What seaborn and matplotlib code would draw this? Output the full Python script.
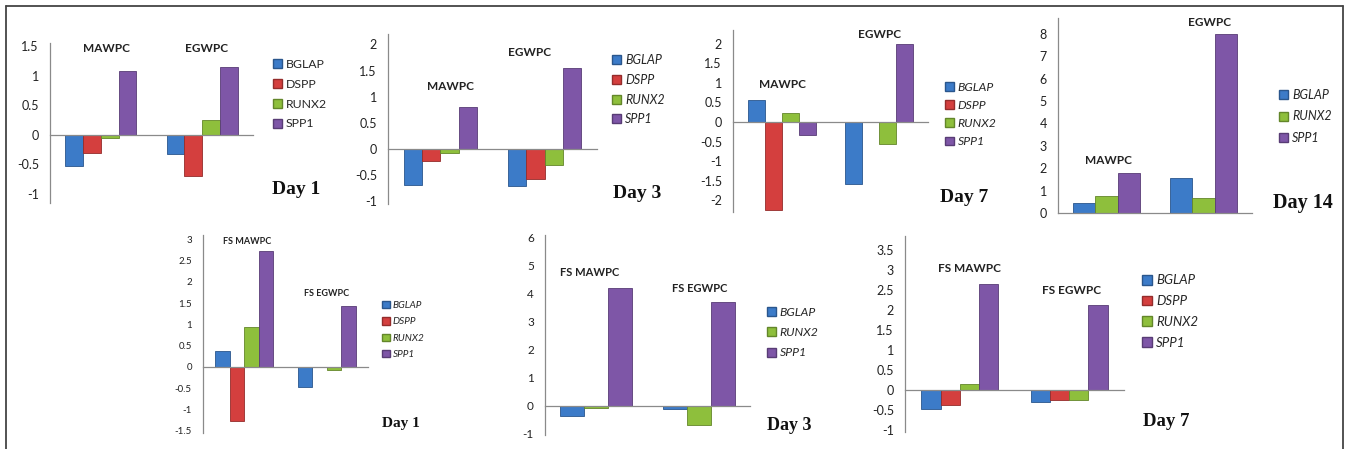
import numpy as np
import pandas as pd
import matplotlib
matplotlib.use("Agg")
import matplotlib.pyplot as plt
import matplotlib.colors as mcolors
from matplotlib.lines import Line2D
from matplotlib.patches import Patch
from matplotlib.ticker import FuncFormatter
import seaborn as sns

W, H = 1346, 449

genes4 = ["BGLAP", "DSPP", "RUNX2", "SPP1"]
genes3 = ["BGLAP", "RUNX2", "SPP1"]
groups = ["MAWPC", "EGWPC"]
groups_fs = ["FS MAWPC", "FS EGWPC"]

# values (gene order as in the legend)
day1_mawpc = [-0.52, -0.30, -0.05, 1.08]
day1_egwpc = [-0.32, -0.70, 0.25, 1.15]
day3_mawpc = [-0.68, -0.22, -0.07, 0.80]
day3_egwpc = [-0.70, -0.58, -0.30, 1.55]
day7_mawpc = [0.55, -2.25, 0.22, -0.32]
day7_egwpc = [-1.58, np.nan, -0.55, 2.00]
day14_mawpc = [0.45, 0.78, 1.80]
day14_egwpc = [1.55, 0.65, 8.00]
fs_day1_mawpc = [0.37, -1.27, 0.93, 2.72]
fs_day1_egwpc = [-0.48, np.nan, -0.08, 1.43]
fs_day3_mawpc = [-0.38, -0.08, 4.22]
fs_day3_egwpc = [-0.12, -0.70, 3.70]
fs_day7_mawpc = [-0.47, -0.38, 0.15, 2.65]
fs_day7_egwpc = [-0.30, -0.25, -0.25, 2.13]

day_labels = ["Day 1", "Day 3", "Day 7", "Day 14", "Day 1", "Day 3", "Day 7"]

colors = {"BGLAP": "#3C7BC8", "DSPP": "#D43F3E", "RUNX2": "#8EBF3C", "SPP1": "#7E56A7"}

sns.set_style("white")
plt.rcParams["font.family"] = ["Lato", "DejaVu Sans"]
plt.rcParams["axes.unicode_minus"] = False

fig = plt.figure(figsize=(W / 100, H / 100), dpi=100)


def px(x, y):
    return x / W, 1 - y / H


def darker(c, f=0.7):
    r, g, b = mcolors.to_rgb(c)
    return (r * f, g * f, b * f)


def panel(box, grp, genes, vals_a, vals_b, ylim, yticks, tick_fs,
          labels_pos, lab_fs, leg_xy, leg_fs, leg_sp, italic,
          day, day_xy, day_fs):
    L, T, R, B = box
    ax = fig.add_axes([L / W, 1 - B / H, (R - L) / W, (B - T) / H])
    df = pd.DataFrame({
        "group": np.repeat(grp, len(genes)),
        "gene": genes * 2,
        "value": list(vals_a) + list(vals_b),
    })
    sns.barplot(data=df, x="group", y="value", hue="gene", order=grp,
                hue_order=genes, palette=colors, width=0.7, saturation=1,
                errorbar=None, legend=False, ax=ax)
    for p in ax.patches:
        p.set_edgecolor(darker(p.get_facecolor()))
        p.set_linewidth(0.6)
    ax.set_xlim(-0.5, 1.5)
    ax.set_ylim(ylim)
    ax.set_yticks(yticks)
    ax.yaxis.set_major_formatter(FuncFormatter(lambda v, _: f"{v:g}"))
    ax.set_xticks([-0.5, 0.5, 1.5])
    ax.set_xticklabels([])
    ax.set_xlabel("")
    ax.set_ylabel("")
    ax.patch.set_alpha(0)
    for s in ["top", "right"]:
        ax.spines[s].set_visible(False)
    ax.spines["bottom"].set_position(("data", 0))
    for s in ["left", "bottom"]:
        ax.spines[s].set_color("#8a8a8a")
        ax.spines[s].set_linewidth(0.9)
    ax.tick_params(axis="y", direction="out", length=4, width=0.8,
                   color="#8a8a8a", labelsize=tick_fs, pad=4,
                   labelcolor="#222222")
    ax.tick_params(axis="x", direction="out", length=4, width=0.8,
                   color="#8a8a8a")
    # group names above the bars
    for name, (x, y) in zip(grp, labels_pos):
        fig.text(*px(x, y), name, ha="center", va="center",
                 fontsize=lab_fs, fontweight="bold", color="#222222")
    handles = [Patch(facecolor=colors[g], edgecolor=darker(colors[g]))
               for g in genes]
    ax.legend(handles, genes, loc="upper left", bbox_to_anchor=px(*leg_xy),
              bbox_transform=fig.transFigure, frameon=False, borderpad=0,
              borderaxespad=0, handlelength=0.75, handleheight=0.75,
              handletextpad=0.3, labelspacing=leg_sp,
              prop=dict(family="Lato", size=leg_fs,
                        style="italic" if italic else "normal"))
    fig.text(*px(*day_xy), day, ha="left", va="center", fontsize=day_fs,
             fontweight="bold", family="Liberation Serif", color="#111111")
    return ax


panel((50, 43, 253, 203), groups, genes4, day1_mawpc, day1_egwpc,
      (-1.15, 1.55), [-1, -0.5, 0, 0.5, 1, 1.5], 9,
      [(107, 49), (207, 49)], 8.5, (273, 59), 8.8, 0.72, False,
      day_labels[0], (272, 190), 14)
panel((388, 34, 597, 204), groups, genes4, day3_mawpc, day3_egwpc,
      (-1.05, 2.2), [-1, -0.5, 0, 0.5, 1, 1.5, 2], 9,
      [(451, 86), (530, 52)], 8.5, (612, 54), 9, 0.62, True,
      day_labels[1], (613, 193), 14)
panel((733, 30, 928, 212), groups, genes4, day7_mawpc, day7_egwpc,
      (-2.3, 2.35), [-2, -1.5, -1, -0.5, 0, 0.5, 1, 1.5, 2], 9,
      [(782, 85), (880, 35)], 8.5, (945, 82), 8.8, 0.58, True,
      day_labels[2], (940, 198), 14)
panel((1058, 18, 1252, 213), groups, genes3, day14_mawpc, day14_egwpc,
      (0, 8.7), [0, 1, 2, 3, 4, 5, 6, 7, 8], 9,
      [(1108, 160), (1210, 23)], 8.5, (1279, 89), 9, 0.76, True,
      day_labels[3], (1273, 203), 14.5)
panel((203, 235, 368, 433), groups_fs, genes4, fs_day1_mawpc, fs_day1_egwpc,
      (-1.55, 3.1), [-1.5, -1, -0.5, 0, 0.5, 1, 1.5, 2, 2.5, 3], 7,
      [(247, 242), (327, 293)], 6.5, (382, 301), 7.2, 0.72, True,
      day_labels[4], (382, 424), 11)
panel((545, 235, 750, 435), groups_fs, genes3, fs_day3_mawpc, fs_day3_egwpc,
      (-1.05, 6.1), [-1, 0, 1, 2, 3, 4, 5, 6], 8.5,
      [(590, 273), (700, 288)], 8, (767, 306.5), 8.8, 0.77, True,
      day_labels[5], (767, 425), 13)
panel((905, 236, 1124, 432), groups_fs, genes4, fs_day7_mawpc, fs_day7_egwpc,
      (-1.05, 3.85), [-1, -0.5, 0, 0.5, 1, 1.5, 2, 2.5, 3, 3.5], 9,
      [(970, 268), (1072, 291)], 8.5, (1142, 274.5), 9.5, 0.66, True,
      day_labels[6], (1143, 422), 13.5)

# outer frame (open at the bottom)
for xs, ys in [((6, 6), (449, 6)), ((6, 1343), (6, 6)), ((1343, 1343), (6, 449))]:
    fig.add_artist(Line2D([x / W for x in xs], [1 - y / H for y in ys],
                          transform=fig.transFigure, color="#444444", lw=1.3))

fig.savefig("out.png", dpi=100)
